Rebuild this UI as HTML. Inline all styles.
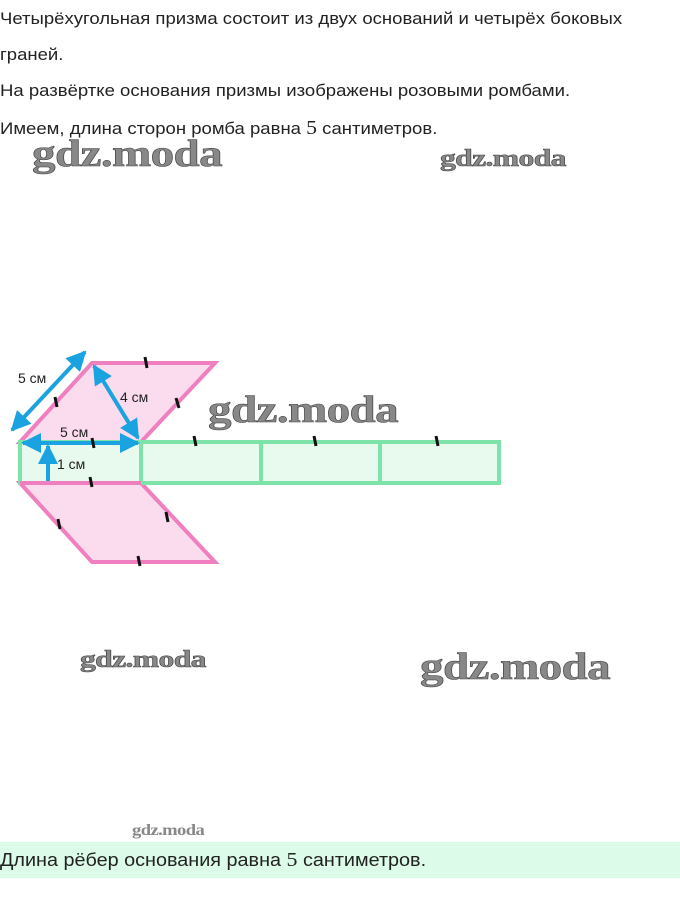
<!DOCTYPE html>
<html><head><meta charset="utf-8"><style>
body{margin:0;width:680px;height:913px;background:#fff;position:relative;overflow:hidden;font-family:"Liberation Sans","DejaVu Sans",sans-serif;color:#222}
.t{position:absolute;left:0;font-size:17px;white-space:nowrap;transform:scaleX(1.09);transform-origin:0 0}
.n{font-family:"Liberation Serif",serif;font-size:20px}
.w{position:absolute;font-family:"Liberation Serif",serif;font-weight:bold;color:#888;white-space:nowrap;-webkit-text-stroke:0.6px #444;letter-spacing:-0.5px;transform-origin:0 0}
</style></head><body>
<div class="t" style="top:9px">Четырёхугольная призма состоит из двух оснований и четырёх боковых</div>
<div class="t" style="top:45px">граней.</div>
<div class="t" style="top:81px">На развёртке основания призмы изображены розовыми ромбами.</div>
<div class="t" style="top:117px">Имеем, длина сторон ромба равна <span class="n">5</span> сантиметров.</div>
<div style="position:absolute;left:0;top:842px;width:680px;height:36px;background:#dcfbe8"></div>
<div class="t" style="top:849px;font-size:18px;transform:scaleX(1.1)">Длина рёбер основания равна <span class="n">5</span> сантиметров.</div>

<svg width="680" height="913" style="position:absolute;left:0;top:0">
<defs><marker id="a" viewBox="0 0 10 10" refX="9" refY="5" markerWidth="5" markerHeight="5" orient="auto-start-reverse"><path d="M0,0L10,5L0,10z" fill="#1aa3e0"/></marker></defs>
<polygon points="20,442 92,363 215,363 141,442" fill="#fbdcef" stroke="#ef7fbf" stroke-width="4"/>
<polygon points="20,483 141,483 215,562 92,562" fill="#fbdcef" stroke="#ef7fbf" stroke-width="4"/>
<rect x="20" y="442" width="121" height="41" fill="#e8faee" stroke="#7ee3a8" stroke-width="4"/>
<rect x="141" y="442" width="358" height="41" fill="#e8faee" stroke="#7ee3a8" stroke-width="4"/>
<line x1="261" y1="442" x2="261" y2="483" stroke="#7ee3a8" stroke-width="4"/>
<line x1="380" y1="442" x2="380" y2="483" stroke="#7ee3a8" stroke-width="4"/>
<line x1="20" y1="483" x2="141" y2="483" stroke="#ef7fbf" stroke-width="4"/>
<g stroke="#1aa3e0" stroke-width="4" fill="none">
<line x1="12" y1="430" x2="85" y2="352" marker-start="url(#a)" marker-end="url(#a)"/>
<line x1="94" y1="366" x2="138" y2="438" marker-start="url(#a)" marker-end="url(#a)"/>
<line x1="23" y1="443" x2="138" y2="443" marker-start="url(#a)" marker-end="url(#a)"/>
<line x1="48" y1="446" x2="48" y2="481" marker-start="url(#a)"/>
</g>
<g stroke="#111" stroke-width="3">
<line x1="145" y1="357" x2="147" y2="368"/><line x1="176" y1="398" x2="179" y2="408"/>
<line x1="55" y1="397" x2="57" y2="407"/><line x1="92" y1="438" x2="94" y2="448"/>
<line x1="194" y1="436" x2="196" y2="446"/><line x1="314" y1="436" x2="316" y2="446"/><line x1="436" y1="436" x2="438" y2="446"/>
<line x1="90" y1="477" x2="92" y2="487"/><line x1="58" y1="519" x2="60" y2="529"/>
<line x1="166" y1="512" x2="168" y2="522"/><line x1="138" y1="556" x2="140" y2="566"/>
</g>
<g font-family="Liberation Sans,sans-serif" font-size="14" fill="#222">
<text x="18" y="383">5 см</text><text x="120" y="402">4 см</text>
<text x="60" y="437">5 см</text><text x="57" y="469">1 см</text>
</g>
</svg>
<div class="w" style="left:32px;top:132px;font-size:38px;transform:scaleX(1.24)">gdz.moda</div>
<div class="w" style="left:440px;top:146px;font-size:24px;transform:scaleX(1.32)">gdz.moda</div>
<div class="w" style="left:208px;top:388px;font-size:38px;transform:scaleX(1.24)">gdz.moda</div>
<div class="w" style="left:80px;top:647px;font-size:24px;transform:scaleX(1.32)">gdz.moda</div>
<div class="w" style="left:420px;top:645px;font-size:38px;transform:scaleX(1.24)">gdz.moda</div>
<div class="w" style="left:132px;top:822px;font-size:16px;-webkit-text-stroke:0;transform:scaleX(1.16)">gdz.moda</div>
</body></html>
